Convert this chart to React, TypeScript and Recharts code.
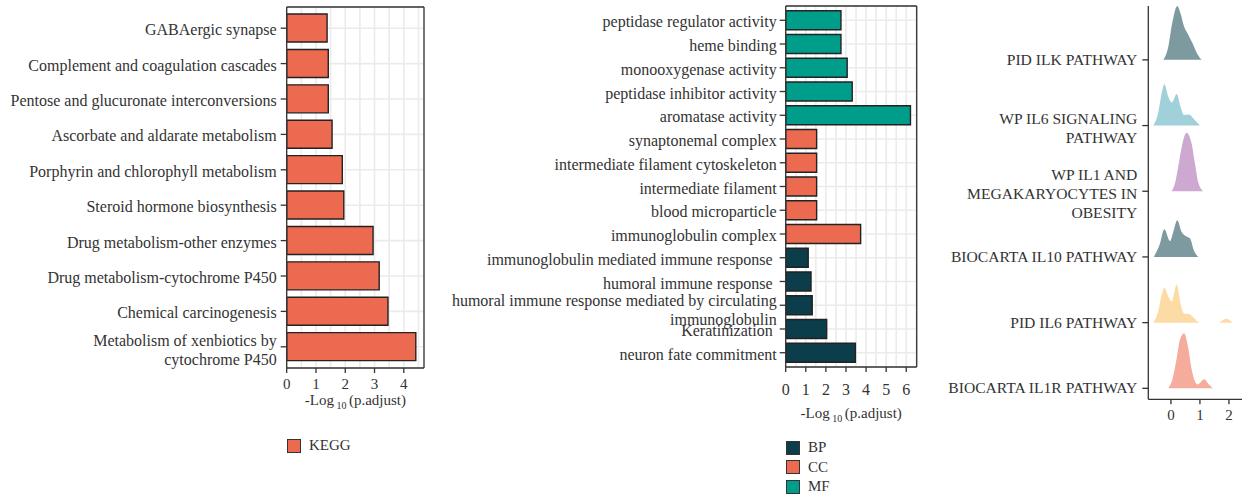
import React from 'react';
import { BarChart, Bar, Cell, XAxis, YAxis, CartesianGrid, Legend, ComposedChart, Area } from 'recharts';

// KEGG panel (top to bottom)
const keggTerms = [
  'GABAergic synapse',
  'Complement and coagulation cascades',
  'Pentose and glucuronate interconversions',
  'Ascorbate and aldarate metabolism',
  'Porphyrin and chlorophyll metabolism',
  'Steroid hormone biosynthesis',
  'Drug metabolism-other enzymes',
  'Drug metabolism-cytochrome P450',
  'Chemical carcinogenesis',
  'Metabolism of xenbiotics by\ncytochrome P450',
];
const keggValues = [1.38, 1.42, 1.42, 1.55, 1.9, 1.95, 2.95, 3.16, 3.46, 4.41];
const keggTicks = [0, 0.5, 1, 1.5, 2, 2.5, 3, 3.5, 4, 4.5];
const keggMax = 4.69;

// GO panel (top to bottom)
const goTerms = [
  'peptidase regulator activity',
  'heme binding',
  'monooxygenase activity',
  'peptidase inhibitor activity',
  'aromatase activity',
  'synaptonemal complex',
  'intermediate filament cytoskeleton',
  'intermediate filament',
  'blood microparticle',
  'immunoglobulin complex',
  'immunoglobulin mediated immune response ',
  'humoral immune response ',
  'humoral immune response mediated by circulating\nimmunoglobulin',
  'Keratinization ',
  'neuron fate commitment',
];
const goValues = [2.75, 2.75, 3.06, 3.31, 6.21, 1.54, 1.54, 1.54, 1.54, 3.73, 1.12, 1.26, 1.32, 2.04, 3.47];
const goGroups = ['MF', 'MF', 'MF', 'MF', 'MF', 'CC', 'CC', 'CC', 'CC', 'CC', 'BP', 'BP', 'BP', 'BP', 'BP'];
const goTicks = [0, 0.5, 1, 1.5, 2, 2.5, 3, 3.5, 4, 4.5, 5, 5.5, 6, 6.5];
const goMax = 6.52;

const ontologies = ['BP', 'CC', 'MF'];
const ontologyColors: Record<string, string> = { BP: '#0B3D4A', CC: '#EC6A4F', MF: '#009E8A' };
const keggColor = '#EC6A4F';

// ridge panel, bottom to top
const ridgeNames = [
  'BIOCARTA IL1R PATHWAY',
  'PID IL6 PATHWAY',
  'BIOCARTA IL10 PATHWAY',
  'WP IL1 AND\nMEGAKARYOCYTES IN\nOBESITY',
  'WP IL6 SIGNALING\nPATHWAY',
  'PID ILK PATHWAY',
];
const ridgeColors = ['#F5AC9C', '#FCDBA5', '#7D9AA1', '#CDA8D1', '#A0D0DA', '#7D9AA1'];

const il1rX = [-0.09, 0.06, 0.2, 0.31, 0.45, 0.6, 0.71, 0.91, 1.15, 1.29, 1.44];
const il1rH = [0, 0.15, 0.46, 0.74, 0.84, 0.61, 0.3, 0.06, 0.14, 0.07, 0];
const pidIl6X = [-0.61, -0.44, -0.32, -0.23, -0.09, 0.02, 0.2, 0.33, 0.45, 0.63, 0.79, 0.98, 1.63, 1.9, 2.13];
const pidIl6H = [0, 0.17, 0.42, 0.53, 0.4, 0.32, 0.58, 0.29, 0.14, 0.13, 0.07, 0, 0, 0.06, 0];
const il10X = [-0.59, -0.38, -0.23, -0.03, 0.08, 0.22, 0.37, 0.54, 0.66, 0.79, 0.94];
const il10H = [0, 0.2, 0.42, 0.24, 0.38, 0.56, 0.38, 0.31, 0.28, 0.1, 0];
const il1X = [0.02, 0.14, 0.25, 0.37, 0.54, 0.71, 0.83, 0.94, 1.11];
const il1H = [0, 0.12, 0.37, 0.67, 0.89, 0.73, 0.42, 0.14, 0];
const wpIl6X = [-0.61, -0.44, -0.32, -0.23, -0.09, 0.03, 0.2, 0.33, 0.45, 0.63, 0.79, 1.0];
const wpIl6H = [0, 0.19, 0.49, 0.63, 0.44, 0.35, 0.48, 0.29, 0.16, 0.17, 0.1, 0];
const ilkX = [-0.26, -0.09, 0.045, 0.22, 0.33, 0.45, 0.6, 0.75, 0.91, 1.06];
const ilkH = [0, 0.2, 0.56, 0.82, 0.71, 0.51, 0.38, 0.25, 0.09, 0];

const ridgeSeries = [
  { x: il1rX, h: il1rH },
  { x: pidIl6X, h: pidIl6H },
  { x: il10X, h: il10H },
  { x: il1X, h: il1H },
  { x: wpIl6X, h: wpIl6H },
  { x: ilkX, h: ilkH },
];
const ridgeTicks = [0, 1, 2, 3, 4, 5];

const keggRows = keggTerms.map((term, i) => ({ term, value: keggValues[i] }));
const goRows = goTerms.map((term, i) => ({ term, value: goValues[i], group: goGroups[i] }));

const ridgeRows = (() => {
  const xs = Array.from(new Set(ridgeSeries.flatMap((s) => s.x))).sort((a, b) => a - b);
  return xs.map((x) => {
    const row: any = { x };
    ridgeSeries.forEach((s, i) => {
      const j = s.x.indexOf(x);
      row[`r${i}`] = j >= 0 ? [i, i + s.h[j]] : null;
    });
    return row;
  });
})();

const FONT = "'Liberation Serif', serif";
const INK = '#333';
const lineStyle = { stroke: '#333', strokeWidth: 1.3 };

const TermTick = (props: any) => {
  const { x, y, payload, fontSize, lineHeight, shift, base = 0, labels } = props;
  const label = labels ? labels[payload.value] : payload.value;
  const lines = String(label).split('\n');
  const first = -((lines.length - 1) * lineHeight) / 2 + (lines.length > 1 ? shift : 0) + base + fontSize * 0.33;
  return (
    <text x={x} y={y} textAnchor="end" fontSize={fontSize} fill={INK} fontFamily={FONT} style={{ whiteSpace: 'pre' }}>
      {lines.map((line, i) => (
        <tspan key={i} x={x} dy={i === 0 ? first : lineHeight}>
          {line}
        </tspan>
      ))}
    </text>
  );
};

// tick mark + label only on whole numbers; grid still gets the half steps
const ValueTick = (props: any) => {
  const { x, y, payload, labelDy, fontSize } = props;
  const v = payload.value;
  if (!Number.isInteger(v)) return <g />;
  return (
    <g>
      <line x1={x} x2={x} y1={y - 5} y2={y} stroke={INK} strokeWidth={1.3} />
      <text x={x} y={y + labelDy} textAnchor="middle" fontSize={fontSize} fill={INK} fontFamily={FONT}>
        {v}
      </text>
    </g>
  );
};

const axisTitle = (dy: number) => (props: any) => {
  const { viewBox } = props;
  const cx = viewBox.x + viewBox.width / 2;
  return (
    <text x={cx} y={viewBox.y + dy} textAnchor="middle" fontSize={15} fill={INK} fontFamily={FONT} style={{ whiteSpace: 'pre' }}>
      -Log
      <tspan fontSize={10} dy={4}>{' 10 '}</tspan>
      <tspan dy={-4}>(p.adjust)</tspan>
    </text>
  );
};

const LegendBoxes = ({ items }: { items: { name: string; color: string }[] }) => (
  <div style={{ fontFamily: FONT, fontSize: 15, color: INK }}>
    {items.map((it) => (
      <div key={it.name} style={{ display: 'flex', alignItems: 'center', height: 19.5 }}>
        <span
          style={{
            display: 'inline-block',
            width: 12,
            height: 12,
            background: it.color,
            border: '1.3px solid #333',
            marginRight: 8,
          }}
        />
        {it.name}
      </div>
    ))}
  </div>
);

const App: React.FC = () => {
  return (
    <div style={{ position: 'absolute', left: 0, top: 0, width: 1242, height: 502, background: '#fff', fontFamily: FONT }}>
      {/* KEGG */}
      <div style={{ position: 'absolute', left: 0, top: 0 }}>
        <BarChart
          layout="vertical"
          width={430}
          height={470}
          data={keggRows}
          margin={{ top: 6, right: 5, bottom: 0, left: 0 }}
          barCategoryGap="10%"
        >
          <CartesianGrid stroke="#EBEBEB" strokeWidth={1.6} />
          <XAxis
            type="number"
            dataKey="value"
            domain={[0, keggMax]}
            ticks={keggTicks}
            interval={0}
            allowDataOverflow
            height={102}
            tickLine={false}
            tickSize={5}
            tickMargin={0}
            axisLine={lineStyle}
            tick={<ValueTick labelDy={16} fontSize={15} />}
            label={axisTitle(37)}
          />
          <XAxis xAxisId="top" orientation="top" type="number" domain={[0, keggMax]} height={1} tick={false} tickLine={false} axisLine={lineStyle} />
          <YAxis
            type="category"
            dataKey="term"
            width={286.7}
            interval={0}
            padding={{ top: 3.5, bottom: 3.5 }}
            tickSize={6}
            tickMargin={4}
            tickLine={{ stroke: INK, strokeWidth: 1.3 }}
            axisLine={lineStyle}
            tick={<TermTick fontSize={16} lineHeight={19} shift={1.2} base={1.8} />}
          />
          <YAxis yAxisId="right" orientation="right" type="category" dataKey="term" width={1} tick={false} tickLine={false} axisLine={lineStyle} />
          <Bar dataKey="value" fill={keggColor} stroke="#222" strokeWidth={1.4} isAnimationActive={false} />
          <Legend
            layout="vertical"
            align="center"
            verticalAlign="middle"
            wrapperStyle={{ left: 287, top: 436, width: 'auto', height: 'auto' }}
            content={() => <LegendBoxes items={[{ name: 'KEGG', color: keggColor }]} />}
          />
        </BarChart>
      </div>

      {/* GO */}
      <div style={{ position: 'absolute', left: 440, top: 0 }}>
        <BarChart
          layout="vertical"
          width={482}
          height={470}
          data={goRows}
          margin={{ top: 5, right: 4.3, bottom: 0, left: 0 }}
          barCategoryGap="10%"
        >
          <CartesianGrid stroke="#EBEBEB" strokeWidth={1.6} />
          <XAxis
            type="number"
            dataKey="value"
            domain={[0, goMax]}
            ticks={goTicks}
            interval={0}
            allowDataOverflow
            height={103}
            tickLine={false}
            tickSize={5}
            tickMargin={0}
            axisLine={lineStyle}
            tick={<ValueTick labelDy={23} fontSize={16} />}
            label={axisTitle(51)}
          />
          <XAxis xAxisId="top" orientation="top" type="number" domain={[0, goMax]} height={1} tick={false} tickLine={false} axisLine={lineStyle} />
          <YAxis
            type="category"
            dataKey="term"
            width={345.7}
            interval={0}
            padding={{ top: 2.4, bottom: 2.4 }}
            tickSize={6}
            tickMargin={3}
            tickLine={{ stroke: INK, strokeWidth: 1.3 }}
            axisLine={lineStyle}
            tick={<TermTick fontSize={16} lineHeight={19} shift={3} base={1.8} />}
          />
          <YAxis yAxisId="right" orientation="right" type="category" dataKey="term" width={1} tick={false} tickLine={false} axisLine={lineStyle} />
          <Bar dataKey="value" stroke="#222" strokeWidth={1.4} isAnimationActive={false}>
            {goRows.map((r, i) => (
              <Cell key={`go-${i}`} fill={ontologyColors[r.group]} />
            ))}
          </Bar>
          <Legend
            layout="vertical"
            align="center"
            verticalAlign="middle"
            wrapperStyle={{ left: 346, top: 438, width: 'auto', height: 'auto' }}
            content={() => <LegendBoxes items={ontologies.map((o) => ({ name: o, color: ontologyColors[o] }))} />}
          />
        </BarChart>
      </div>

      {/* ridges */}
      <div style={{ position: 'absolute', left: 920, top: 0 }}>
        <ComposedChart width={322} height={430} data={ridgeRows} margin={{ top: 6, right: 0, bottom: 0, left: 0 }}>
          <XAxis
            type="number"
            dataKey="x"
            domain={[-0.78, 2.45]}
            ticks={[0, 1, 2]}
            interval={0}
            allowDataOverflow
            height={30.7}
            tickSize={5}
            tickMargin={5}
            tickLine={{ stroke: INK, strokeWidth: 1.3 }}
            axisLine={lineStyle}
            tick={{ fontSize: 15, fill: INK, fontFamily: FONT }}
          />
          <YAxis
            type="number"
            domain={[-0.167, 5.82]}
            ticks={ridgeTicks}
            allowDataOverflow
            width={228.3}
            interval={0}
            tickSize={6}
            tickMargin={5}
            tickLine={{ stroke: INK, strokeWidth: 1.3 }}
            axisLine={lineStyle}
            tick={<TermTick fontSize={15.6} lineHeight={19} shift={3} labels={ridgeNames} />}
          />
          {ridgeSeries.map((_, i) => (
            <Area
              key={`ridge-${i}`}
              type="monotone"
              dataKey={`r${i}`}
              fill={ridgeColors[i]}
              fillOpacity={1}
              stroke="none"
              connectNulls
              isAnimationActive={false}
            />
          ))}
        </ComposedChart>
      </div>
    </div>
  );
};

export default App;
